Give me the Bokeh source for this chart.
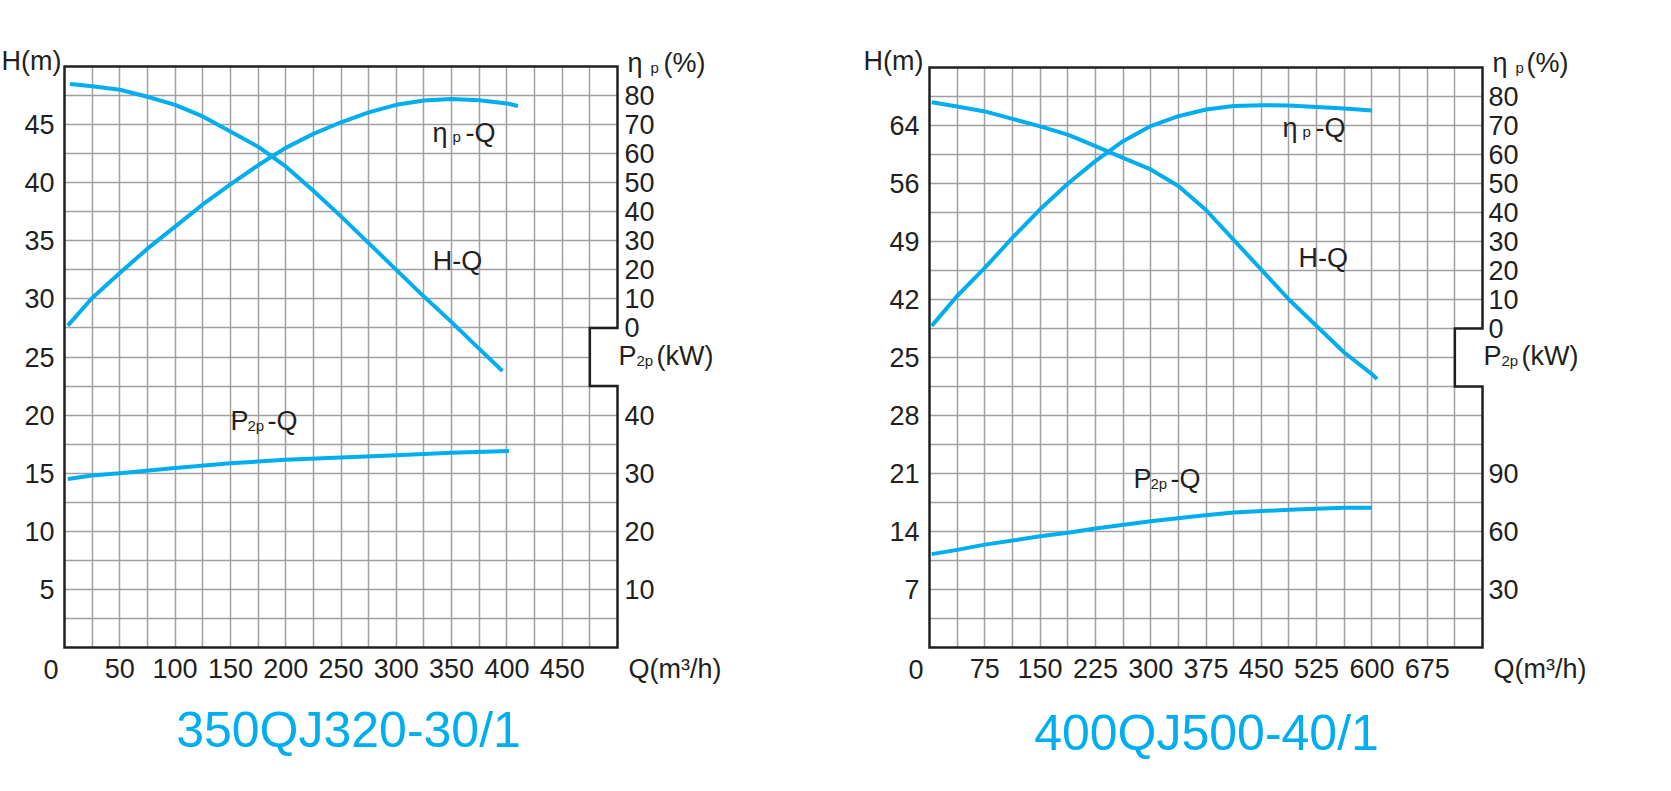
from bokeh.plotting import figure
from bokeh.models import Range1d, LinearAxis, FixedTicker, Label, Grid
from bokeh.layouts import row
from bokeh.embed import file_html
from bokeh.resources import INLINE

FONT = "Liberation Sans"
TXT = "#231F20"
BLUE = "#00AEEF"
GRID = "#A0A0A0"

# ---------------- chart 1 : 350QJ320-30/1 ----------------
c1_title = "350QJ320-30/1"
c1_q_max = 500
c1_q_step = 25
c1_q_ticks = [50, 100, 150, 200, 250, 300, 350, 400, 450]
c1_h_max = 50
c1_h_step = 2.5
c1_h_ticks = [5, 10, 15, 20, 25, 30, 35, 40, 45]
c1_h_labels = ["5", "10", "15", "20", "25", "30", "35", "40", "45"]
c1_eff_ticks = [0, 10, 20, 30, 40, 50, 60, 70, 80]
c1_pow_ticks = [10, 20, 30, 40]
c1_eff_zero_h = 27.5      # H level where eta = 0
c1_eff_per_h = 4.0        # % per metre
c1_pow_per_h = 2.0        # kW per metre
c1_notch = (475, 22.5, 27.5)

c1_hq_q = [5, 25, 50, 75, 100, 125, 150, 175, 200, 225, 250, 275, 300, 325, 350, 375, 396]
c1_hq_h = [48.5, 48.3, 48.0, 47.4, 46.7, 45.7, 44.4, 43.1, 41.4, 39.3, 37.1, 34.8, 32.5, 30.2, 28.0, 25.7, 23.8]
c1_eff_q = [3, 25, 50, 75, 100, 125, 150, 175, 200, 225, 250, 275, 300, 325, 350, 375, 400, 410]
c1_eff = [0.8, 10.3, 18.9, 27.3, 34.9, 42.5, 49.4, 56.0, 62.0, 66.8, 70.8, 74.2, 76.8, 78.3, 78.8, 78.4, 77.3, 76.4]
c1_pow_q = [3, 25, 50, 100, 150, 200, 250, 300, 350, 402]
c1_pow = [29.0, 29.6, 30.0, 30.9, 31.7, 32.3, 32.7, 33.1, 33.5, 33.8]

# ---------------- chart 2 : 400QJ500-40/1 ----------------
c2_title = "400QJ500-40/1"
c2_q_max = 750
c2_q_step = 37.5
c2_q_ticks = [75, 150, 225, 300, 375, 450, 525, 600, 675]
c2_h_max = 70
c2_h_step = 3.5
c2_h_ticks = [7, 14, 21, 28, 35, 42, 49, 56, 63]
c2_h_labels = ["7", "14", "21", "28", "25", "42", "49", "56", "64"]
c2_eff_ticks = [0, 10, 20, 30, 40, 50, 60, 70, 80]
c2_pow_ticks = [30, 60, 90]
c2_eff_zero_h = 38.5
c2_eff_per_h = 10 / 3.5
c2_pow_per_h = 30 / 7
c2_notch = (712.5, 31.5, 38.5)

c2_hq_q = [3, 37.5, 75, 112.5, 150, 187.5, 225, 262.5, 300, 337.5, 375, 412.5, 450, 487.5, 525, 562.5, 600, 607]
c2_hq_h = [65.8, 65.3, 64.7, 63.8, 62.9, 61.9, 60.5, 59.1, 57.7, 55.7, 52.8, 49.2, 45.6, 42.0, 38.8, 35.6, 33.0, 32.4]
c2_eff_q = [3, 37.5, 75, 112.5, 150, 187.5, 225, 262.5, 300, 337.5, 375, 412.5, 450, 487.5, 525, 562.5, 600]
c2_eff = [0.9, 11.2, 20.9, 31.3, 41.1, 49.9, 57.7, 64.6, 69.8, 73.2, 75.5, 76.7, 77.0, 76.9, 76.4, 75.9, 75.2]
c2_pow_q = [3, 37.5, 75, 150, 187.5, 225, 300, 367.5, 412.5, 487.5, 562.5, 600]
c2_pow = [48.3, 50.5, 53.2, 57.5, 59.4, 61.5, 65.3, 68.1, 69.8, 71.3, 72.3, 72.3]

BIG = 27
SUB = 15
TITLE = 50
FIG_H = 785
MID = 0.3465   # distance (em) from baseline to the middle of the text box
HAS_CROSS = "cross_bounds" in Grid.properties()


def add_text(p, x, y, pieces, align="left", color=TXT, units="data"):
    # y is the text baseline; every piece sits on the same baseline
    for dx, txt, size in pieces:
        p.add_layout(Label(x=x, y=y, x_units=units, y_units=units, x_offset=dx,
                           y_offset=round(MID * size, 1), text=txt,
                           text_font=FONT, text_font_size=f"{size}px", text_color=color,
                           text_align=align, text_baseline="middle"))


def style_axis(ax, standoff):
    ax.axis_line_color = None
    ax.major_tick_line_color = None
    ax.minor_tick_line_color = None
    ax.major_tick_in = 0
    ax.major_tick_out = 0
    ax.major_label_standoff = standoff
    ax.major_label_text_font = FONT
    ax.major_label_text_font_size = f"{BIG}px"
    ax.major_label_text_color = TXT


def build(c, fig_w, box, texts, captions):
    qmax, hmax = c["q_max"], c["h_max"]
    left, right, top, bottom = box           # pixel box of the chart border
    kx = (right - left) / qmax
    ky = (bottom - top) / hmax
    xr = Range1d(-left / kx, (fig_w - left) / kx)
    yr = Range1d(-(FIG_H - bottom) / ky, hmax + top / ky)
    p = figure(x_range=xr, y_range=yr, frame_width=fig_w, frame_height=FIG_H, min_border=0,
               output_backend="svg", toolbar_location=None,
               background_fill_color="white", border_fill_color="white")
    p.outline_line_color = None
    ez, eph, pph = c["eff_zero_h"], c["eff_per_h"], c["pow_per_h"]
    p.extra_y_ranges = {
        "eff": Range1d((yr.start - ez) * eph, (yr.end - ez) * eph),
        "pow": Range1d(yr.start * pph, yr.end * pph),
    }

    # grid
    nq = int(round(qmax / c["q_step"]))
    nh = int(round(hmax / c["h_step"]))
    gq = [c["q_step"] * i for i in range(1, nq)]
    gh = [c["h_step"] * i for i in range(1, nh)]
    if HAS_CROSS:
        p.xgrid.ticker = FixedTicker(ticks=gq)
        p.ygrid.ticker = FixedTicker(ticks=gh)
        p.xgrid.cross_bounds = (0, hmax)
        p.ygrid.cross_bounds = (0, qmax)
        p.grid.grid_line_color = GRID
        p.grid.grid_line_width = 1.5
    else:
        p.grid.visible = False
        p.segment(x0=gq, y0=[0] * len(gq), x1=gq, y1=[hmax] * len(gq), line_color=GRID, line_width=1.5)
        p.segment(x0=[0] * len(gh), y0=gh, x1=[qmax] * len(gh), y1=gh, line_color=GRID, line_width=1.5)

    # axes (drawn at the chart border)
    xa = p.xaxis[0]
    xa.ticker = FixedTicker(ticks=c["q_ticks"])
    xa.fixed_location = 0
    style_axis(xa, 11)
    ya = p.yaxis[0]
    ya.ticker = FixedTicker(ticks=c["h_ticks"])
    ya.major_label_overrides = {t: l for t, l in zip(c["h_ticks"], c["h_labels"])}
    ya.fixed_location = 0
    style_axis(ya, 10)
    rticks, rlabels = [], []
    for e in c["eff_ticks"]:
        rticks.append(round(ez + e / eph, 6)); rlabels.append(str(e))
    for w in c["pow_ticks"]:
        rticks.append(round(w / pph, 6)); rlabels.append(str(w))
    ra = LinearAxis(ticker=FixedTicker(ticks=rticks), fixed_location=qmax,
                    major_label_overrides={t: l for t, l in zip(rticks, rlabels)})
    style_axis(ra, c["r_standoff"])
    p.add_layout(ra, "right")

    # notch cover and frame border
    nq_, nlo, nhi = c["notch"]
    p.quad(left=[nq_], right=[qmax], bottom=[nlo], top=[nhi],
           fill_color="white", line_color=None)
    p.line(x=[0, 0, qmax, qmax, nq_, nq_, qmax, qmax, 0, 0],
           y=[hmax / 2, hmax, hmax, nhi, nhi, nlo, nlo, 0, 0, hmax / 2],
           line_color=TXT, line_width=2.5, line_join="miter")

    # curves
    p.line(c["hq_q"], c["hq_h"], line_color=BLUE, line_width=4, line_join="round")
    p.line(c["eff_q"], c["eff"], line_color=BLUE, line_width=4, line_join="round", y_range_name="eff")
    p.line(c["pow_q"], c["pow"], line_color=BLUE, line_width=4, line_join="round", y_range_name="pow")

    for t in texts:
        add_text(p, *t)
    for t in captions:
        x, y, pieces = t[0], t[1], t[2]
        align = t[3] if len(t) > 3 else "left"
        color = t[4] if len(t) > 4 else TXT
        add_text(p, x, FIG_H - y, pieces, align=align, color=color, units="screen")
    return p


cfg1 = dict(q_max=c1_q_max, q_step=c1_q_step, q_ticks=c1_q_ticks, h_max=c1_h_max, h_step=c1_h_step,
            h_ticks=c1_h_ticks, h_labels=c1_h_labels, eff_ticks=c1_eff_ticks, pow_ticks=c1_pow_ticks,
            eff_zero_h=c1_eff_zero_h, eff_per_h=c1_eff_per_h, pow_per_h=c1_pow_per_h, notch=c1_notch,
            hq_q=c1_hq_q, hq_h=c1_hq_h, eff_q=c1_eff_q, eff=c1_eff, pow_q=c1_pow_q, pow=c1_pow,
            r_standoff=7)
cfg2 = dict(q_max=c2_q_max, q_step=c2_q_step, q_ticks=c2_q_ticks, h_max=c2_h_max, h_step=c2_h_step,
            h_ticks=c2_h_ticks, h_labels=c2_h_labels, eff_ticks=c2_eff_ticks, pow_ticks=c2_pow_ticks,
            eff_zero_h=c2_eff_zero_h, eff_per_h=c2_eff_per_h, pow_per_h=c2_pow_per_h, notch=c2_notch,
            hq_q=c2_hq_q, hq_h=c2_hq_h, eff_q=c2_eff_q, eff=c2_eff, pow_q=c2_pow_q, pow=c2_pow,
            r_standoff=6)

# curve labels (data units, y = baseline)
texts1 = [
    (332.8, 43.5, [(0, "η", BIG), (20, "p", SUB), (33, "-Q", BIG)]),
    (333, 32.45, [(0, "H-Q", BIG)]),
    (150, 18.67, [(0, "P", BIG), (17, "2p", SUB), (37, "-Q", BIG)]),
]
texts2 = [
    (478.8, 61.6, [(0, "η", BIG), (20, "p", SUB), (33, "-Q", BIG)]),
    (500.5, 45.9, [(0, "H-Q", BIG)]),
    (276.6, 19.18, [(0, "P", BIG), (17, "2p", SUB), (37, "-Q", BIG)]),
]
# captions: (x px from figure left, baseline px from figure top, pieces, align, colour)
captions1 = [
    (61, 70, [(0, "H(m)", BIG)], "right"),
    (627, 71.7, [(0, "η", BIG), (23, "p", SUB), (36, "(%)", BIG)]),
    (618, 365, [(0, "P", BIG), (18, "2p", SUB), (38, "(kW)", BIG)]),
    (628, 678, [(0, "Q(m³/h)", BIG)]),
    (58, 678, [(0, "0", BIG)], "right"),
    (348, 747, [(0, c1_title, TITLE)], "center", BLUE),
]
captions2 = [
    (108, 70, [(0, "H(m)", BIG)], "right"),
    (677, 71.7, [(0, "η", BIG), (23, "p", SUB), (34, "(%)", BIG)]),
    (668, 365, [(0, "P", BIG), (18, "2p", SUB), (38, "(kW)", BIG)]),
    (678, 678, [(0, "Q(m³/h)", BIG)]),
    (108, 678, [(0, "0", BIG)], "right"),
    (391, 750, [(0, c2_title, TITLE)], "center", BLUE),
]

FIG1_W, FIG2_W = 815, 850
p1 = build(cfg1, FIG1_W, (64, 617, 66, 647), texts1, captions1)
p2 = build(cfg2, FIG2_W, (114, 667, 67, 647), texts2, captions2)

layout = row(p1, p2)
open("out.html", "w").write(file_html(layout, INLINE))
